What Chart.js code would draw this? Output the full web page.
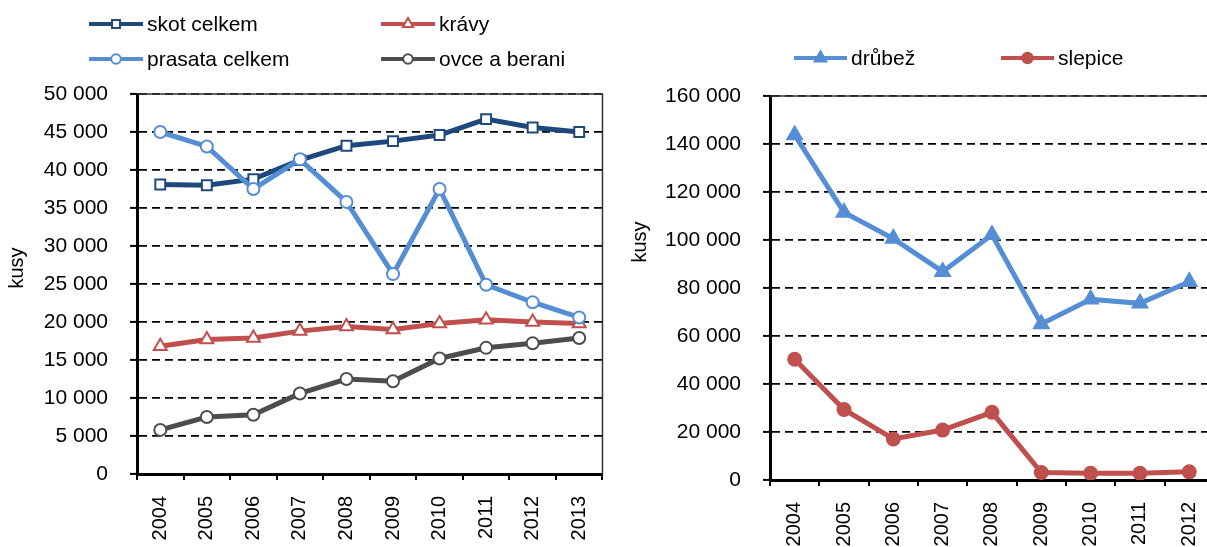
<!DOCTYPE html>
<html>
<head>
<meta charset="utf-8">
<script src="https://cdn.jsdelivr.net/npm/chart.js@4.4.1/dist/chart.umd.min.js"></script>
<style>
html, body { margin: 0; padding: 0; background: #fff; overflow: hidden; width: 1207px; height: 547px; }
#levy { position: absolute; left: 0; top: 0; width: 620px; height: 547px; }
#pravy { position: absolute; left: 620px; top: 0; width: 610px; height: 547px; }
</style>
</head>
<body>
<div id="levy"><canvas id="grafLevy"></canvas></div>
<div id="pravy"><canvas id="grafPravy"></canvas></div>
<script>
// Data - levy graf
var rokyLevy = ['2004', '2005', '2006', '2007', '2008', '2009', '2010', '2011', '2012', '2013'];
var skotCelkem = [38100, 38000, 38800, 41300, 43200, 43800, 44600, 46700, 45600, 45000];
var kravy = [16800, 17700, 17900, 18800, 19400, 19000, 19800, 20300, 20000, 19800];
var prasataCelkem = [45000, 43100, 37500, 41400, 35800, 26300, 37500, 24900, 22600, 20600];
var ovceABerani = [5800, 7500, 7800, 10600, 12500, 12200, 15200, 16600, 17200, 17900];

// Data - pravy graf
var rokyPravy = ['2004', '2005', '2006', '2007', '2008', '2009', '2010', '2011', '2012'];
var drubez = [143800, 111500, 100600, 86800, 102200, 65000, 75300, 73600, 82600];
var slepice = [50300, 29400, 17100, 20800, 28200, 3100, 2800, 2800, 3400];

var pismo = "'Liberation Sans', Arial, sans-serif";

// cisla s mezerou jako oddelovacem tisicu
function formatCislo(v) {
    return String(v).replace(/\B(?=(\d{3})+(?!\d))/g, ' ');
}

// kresleni znacky do legendy
function znacka(ctx, styl, x, y, r, vypln, obrys, sirka) {
    ctx.save();
    ctx.fillStyle = vypln;
    ctx.strokeStyle = obrys;
    ctx.lineWidth = sirka;
    ctx.beginPath();
    if (styl === 'rect') {
        var s = r * Math.SQRT1_2;
        ctx.rect(x - s, y - s, 2 * s, 2 * s);
    } else if (styl === 'triangle') {
        for (var i = 0; i < 3; i++) {
            var a = i * 2 * Math.PI / 3;
            var px = x + Math.sin(a) * r, py = y - Math.cos(a) * r;
            if (i === 0) ctx.moveTo(px, py); else ctx.lineTo(px, py);
        }
        ctx.closePath();
    } else {
        ctx.arc(x, y, r, 0, Math.PI * 2);
    }
    ctx.fill();
    ctx.stroke();
    ctx.restore();
}

// legenda rozlozena do mrizky
var legendaMrizka = {
    id: 'legendaMrizka',
    afterDraw: function (chart, args, opts) {
        var ctx = chart.ctx;
        ctx.save();
        ctx.font = opts.font;
        ctx.textBaseline = 'middle';
        ctx.textAlign = 'left';
        opts.items.forEach(function (it) {
            var ds = chart.data.datasets[it.ds];
            ctx.strokeStyle = ds.borderColor;
            ctx.lineWidth = 4;
            ctx.beginPath();
            ctx.moveTo(it.x, it.y);
            ctx.lineTo(it.x + opts.delka, it.y);
            ctx.stroke();
            znacka(ctx, ds.pointStyle, it.x + opts.delka / 2, it.y, ds.pointRadius * 0.8,
                ds.pointBackgroundColor, ds.borderColor, ds.pointBorderWidth);
            ctx.fillStyle = '#000';
            ctx.fillText(ds.label, it.x + opts.delka + 4, it.y + 1);
        });
        ctx.restore();
    }
};

// popisek osy y
var popisekOsy = {
    id: 'popisekOsy',
    afterDraw: function (chart, args, opts) {
        var ctx = chart.ctx;
        ctx.save();
        ctx.translate(opts.x, opts.y);
        ctx.rotate(-Math.PI / 2);
        ctx.font = opts.font;
        ctx.fillStyle = '#000';
        ctx.textAlign = 'center';
        ctx.textBaseline = 'middle';
        ctx.fillText(opts.text, 0, 0);
        ctx.restore();
    }
};

// ramecek plochy grafu
var ramecek = {
    id: 'ramecek',
    beforeDatasetsDraw: function (chart) {
        var a = chart.chartArea, ctx = chart.ctx;
        ctx.save();
        ctx.strokeStyle = '#333';
        ctx.lineWidth = 1.5;
        ctx.beginPath();
        ctx.moveTo(a.left, a.top);
        ctx.lineTo(a.right, a.top);
        ctx.lineTo(a.right, a.bottom);
        ctx.stroke();
        ctx.restore();
    }
};

function rada(label, data, barva, styl, r, vypln, poradi) {
    return {
        label: label,
        data: data,
        borderColor: barva,
        backgroundColor: barva,
        borderWidth: 5,
        pointStyle: styl,
        pointRadius: r,
        pointHoverRadius: r,
        pointBackgroundColor: vypln,
        pointBorderColor: barva,
        pointBorderWidth: 2,
        tension: 0,
        order: poradi
    };
}

function osy(max, krok, sirkaY, vyskaX) {
    return {
        x: {
            offset: true,
            grid: { offset: true, drawOnChartArea: false, color: '#000', lineWidth: 2, tickLength: 6 },
            border: { display: true, color: '#000', width: 3 },
            ticks: { color: '#000', font: { family: pismo, size: 20 }, minRotation: 90, maxRotation: 90, padding: 16, autoSkip: false },
            afterFit: function (s) { s.height = vyskaX; }
        },
        y: {
            min: 0,
            max: max,
            grid: { color: '#000', lineWidth: 1.8, tickLength: 7, tickColor: '#000', tickWidth: 2 },
            border: { display: true, color: '#000', width: 3, dash: [8, 5] },
            ticks: {
                stepSize: krok, color: '#000', padding: 22,
                font: { family: pismo, size: 21 },
                callback: function (v) { return formatCislo(v); }
            },
            afterFit: function (s) { s.width = sirkaY; }
        }
    };
}

// Levy graf
new Chart(document.getElementById('grafLevy').getContext('2d'), {
    type: 'line',
    data: {
        labels: rokyLevy,
        datasets: [
            rada('skot celkem', skotCelkem, '#1F497D', 'rect', 7, '#fff', 4),
            rada('krávy', kravy, '#C0504D', 'triangle', 7.5, '#fff', 3),
            rada('prasata celkem', prasataCelkem, '#558ED5', 'circle', 6, '#fff', 2),
            rada('ovce a berani', ovceABerani, '#4D4D4D', 'circle', 6, '#fff', 1)
        ]
    },
    options: {
        responsive: true,
        maintainAspectRatio: false,
        animation: false,
        layout: { padding: { top: 94, right: 16, bottom: 0, left: 0 } },
        scales: osy(50000, 5000, 137, 73),
        plugins: {
            legend: { display: false },
            tooltip: { enabled: false },
            legendaMrizka: {
                font: '21px ' + pismo,
                delka: 54,
                items: [
                    { ds: 0, x: 89, y: 24 },
                    { ds: 1, x: 381, y: 24 },
                    { ds: 2, x: 89, y: 59 },
                    { ds: 3, x: 381, y: 59 }
                ]
            },
            popisekOsy: { text: 'kusy', x: 17, y: 268, font: '20px ' + pismo }
        }
    },
    plugins: [legendaMrizka, popisekOsy, ramecek]
});

// Pravy graf
new Chart(document.getElementById('grafPravy').getContext('2d'), {
    type: 'line',
    data: {
        labels: rokyPravy,
        datasets: [
            rada('drůbež', drubez, '#558ED5', 'triangle', 8.5, '#558ED5', 2),
            rada('slepice', slepice, '#C0504D', 'circle', 6.5, '#C0504D', 1)
        ]
    },
    options: {
        responsive: true,
        maintainAspectRatio: false,
        animation: false,
        layout: { padding: { top: 96, right: 13, bottom: 0, left: 0 } },
        scales: osy(160000, 20000, 150, 67),
        plugins: {
            legend: { display: false },
            tooltip: { enabled: false },
            legendaMrizka: {
                font: '21px ' + pismo,
                delka: 53,
                items: [
                    { ds: 0, x: 174, y: 58 },
                    { ds: 1, x: 381, y: 58 }
                ]
            },
            popisekOsy: { text: 'kusy', x: 20, y: 242, font: '20px ' + pismo }
        }
    },
    plugins: [legendaMrizka, popisekOsy, ramecek]
});
</script>
</body>
</html>
